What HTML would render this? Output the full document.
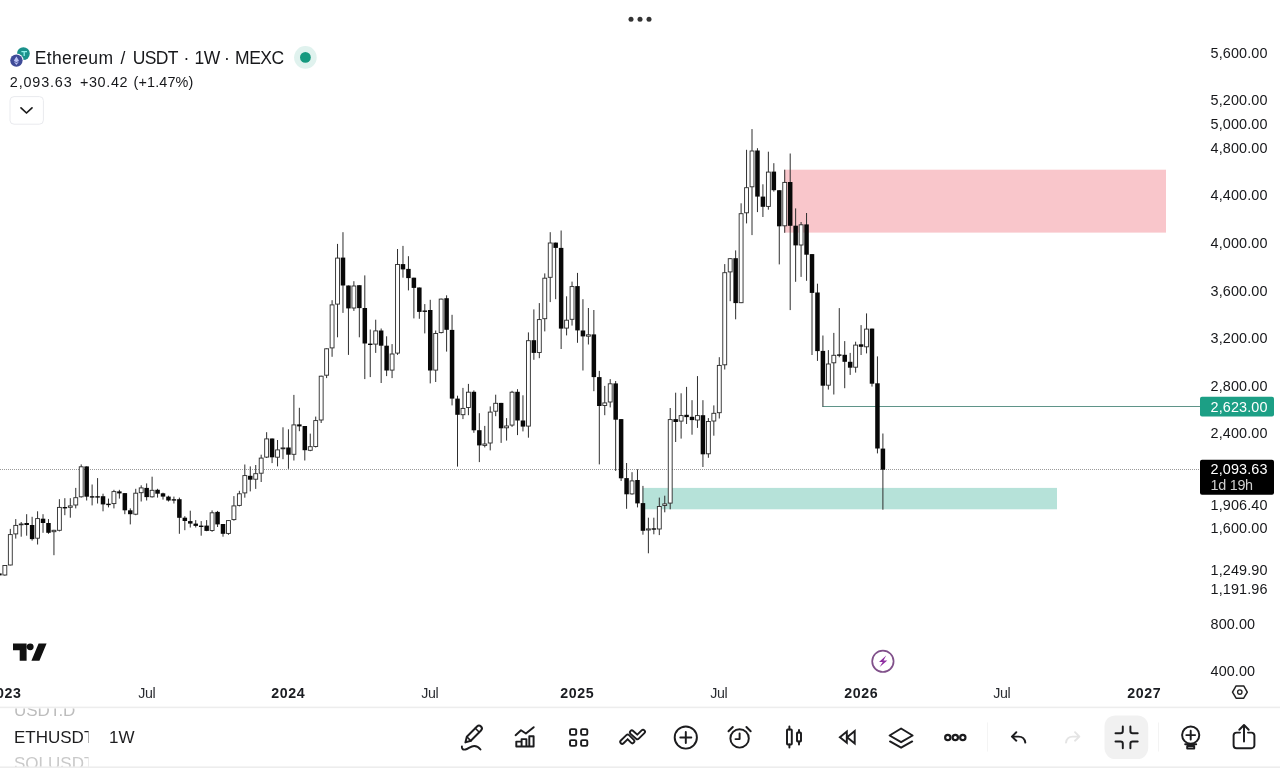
<!DOCTYPE html>
<html lang="en">
<head>
<meta charset="utf-8">
<title>Ethereum / USDT · 1W · MEXC</title>
<style>
html,body{margin:0;padding:0;background:#fff;}
body{width:1280px;height:768px;overflow:hidden;position:relative;font-family:"Liberation Sans", Arial, sans-serif;}
svg{position:absolute;left:0;top:0;display:block;}
text{font-family:"Liberation Sans", Arial, sans-serif;fill:#17181b;}
.ax{font-size:14.4px;}
.tn{font-size:14.2px;fill:#2a2c31;}
.tb{font-size:14.2px;font-weight:700;fill:#1b1d22;}
.title{font-size:17.5px;}
.sub{font-size:14.4px;}
</style>
</head>
<body>
<svg width="1280" height="768" viewBox="0 0 1280 768">
<rect width="1280" height="768" fill="#fff"/>
<!-- zones -->
<rect x="784.3" y="169.7" width="381.7" height="62.9" fill="#f9c6cb"/>
<rect x="642.7" y="487.9" width="414.3" height="21.4" fill="#b6e2d9"/>
<!-- current price dotted line -->
<path d="M0 469.5H1200" stroke="#9a9a9a" stroke-width="1" stroke-dasharray="1 1" fill="none"/>
<!-- level line -->
<path d="M822.3 406.55H1200" stroke="#5f9489" stroke-width="1.1" fill="none"/>
<!-- candles -->
<g shape-rendering="auto">
<path d="M-0.60 573.4V575.4" stroke="#2e2e2e" stroke-width="1"/>
<rect x="-2.85" y="573.4" width="4.5" height="2.0" fill="#080808"/>
<path d="M4.85 565.0V575.7" stroke="#2e2e2e" stroke-width="1"/>
<rect x="2.90" y="565.5" width="3.9" height="9.5" fill="#fff" stroke="#2a2a2a" stroke-width="0.9"/>
<path d="M10.31 528.9V565.4" stroke="#2e2e2e" stroke-width="1"/>
<rect x="8.36" y="534.6" width="3.9" height="30.4" fill="#fff" stroke="#2a2a2a" stroke-width="0.9"/>
<path d="M15.76 519.1V538.6" stroke="#2e2e2e" stroke-width="1"/>
<rect x="13.81" y="525.4" width="3.9" height="8.5" fill="#fff" stroke="#2a2a2a" stroke-width="0.9"/>
<path d="M21.21 522.0V536.7" stroke="#2e2e2e" stroke-width="1"/>
<rect x="19.26" y="524.0" width="3.9" height="0.8" fill="#fff" stroke="#2a2a2a" stroke-width="0.9"/>
<path d="M26.67 514.2V535.7" stroke="#2e2e2e" stroke-width="1"/>
<rect x="24.42" y="523.0" width="4.5" height="2.0" fill="#080808"/>
<path d="M32.12 516.8V540.6" stroke="#2e2e2e" stroke-width="1"/>
<rect x="29.87" y="525.0" width="4.5" height="14.1" fill="#080808"/>
<path d="M37.58 511.3V544.5" stroke="#2e2e2e" stroke-width="1"/>
<rect x="35.63" y="518.6" width="3.9" height="19.6" fill="#fff" stroke="#2a2a2a" stroke-width="0.9"/>
<path d="M43.03 514.2V532.8" stroke="#2e2e2e" stroke-width="1"/>
<rect x="40.78" y="518.7" width="4.5" height="4.3" fill="#080808"/>
<path d="M48.48 519.1V533.8" stroke="#2e2e2e" stroke-width="1"/>
<rect x="46.23" y="523.0" width="4.5" height="9.8" fill="#080808"/>
<path d="M53.94 529.8V555.2" stroke="#2e2e2e" stroke-width="1"/>
<rect x="51.99" y="530.3" width="3.9" height="1.4" fill="#fff" stroke="#2a2a2a" stroke-width="0.9"/>
<path d="M59.39 499.2V531.4" stroke="#2e2e2e" stroke-width="1"/>
<rect x="57.44" y="507.4" width="3.9" height="22.9" fill="#fff" stroke="#2a2a2a" stroke-width="0.9"/>
<path d="M64.84 498.2V515.2" stroke="#2e2e2e" stroke-width="1"/>
<rect x="62.59" y="507.0" width="4.5" height="1.4" fill="#080808"/>
<path d="M70.30 498.2V517.7" stroke="#2e2e2e" stroke-width="1"/>
<rect x="68.35" y="505.9" width="3.9" height="1.4" fill="#fff" stroke="#2a2a2a" stroke-width="0.9"/>
<path d="M75.75 487.9V508.4" stroke="#2e2e2e" stroke-width="1"/>
<rect x="73.80" y="497.7" width="3.9" height="7.3" fill="#fff" stroke="#2a2a2a" stroke-width="0.9"/>
<path d="M81.21 464.4V497.6" stroke="#2e2e2e" stroke-width="1"/>
<rect x="79.26" y="466.8" width="3.9" height="30.0" fill="#fff" stroke="#2a2a2a" stroke-width="0.9"/>
<path d="M86.66 466.4V500.5" stroke="#2e2e2e" stroke-width="1"/>
<rect x="84.41" y="466.4" width="4.5" height="30.3" fill="#080808"/>
<path d="M92.11 484.5V505.4" stroke="#2e2e2e" stroke-width="1"/>
<rect x="89.86" y="496.2" width="4.5" height="1.4" fill="#080808"/>
<path d="M97.57 478.1V503.5" stroke="#2e2e2e" stroke-width="1"/>
<rect x="95.32" y="496.2" width="4.5" height="1.4" fill="#080808"/>
<path d="M103.02 493.7V511.3" stroke="#2e2e2e" stroke-width="1"/>
<rect x="100.77" y="496.2" width="4.5" height="8.2" fill="#080808"/>
<path d="M108.47 498.6V507.4" stroke="#2e2e2e" stroke-width="1"/>
<rect x="106.22" y="503.7" width="4.5" height="1.4" fill="#080808"/>
<path d="M113.93 489.8V508.4" stroke="#2e2e2e" stroke-width="1"/>
<rect x="111.98" y="491.6" width="3.9" height="12.0" fill="#fff" stroke="#2a2a2a" stroke-width="0.9"/>
<path d="M119.38 489.8V498.6" stroke="#2e2e2e" stroke-width="1"/>
<rect x="117.13" y="491.4" width="4.5" height="2.0" fill="#080808"/>
<path d="M124.84 493.1V514.2" stroke="#2e2e2e" stroke-width="1"/>
<rect x="122.59" y="493.1" width="4.5" height="17.2" fill="#080808"/>
<path d="M130.29 508.4V524.4" stroke="#2e2e2e" stroke-width="1"/>
<rect x="128.04" y="510.3" width="4.5" height="3.9" fill="#080808"/>
<path d="M135.74 488.8V515.2" stroke="#2e2e2e" stroke-width="1"/>
<rect x="133.79" y="493.2" width="3.9" height="21.0" fill="#fff" stroke="#2a2a2a" stroke-width="0.9"/>
<path d="M141.20 485.3V501.5" stroke="#2e2e2e" stroke-width="1"/>
<rect x="139.25" y="487.9" width="3.9" height="4.8" fill="#fff" stroke="#2a2a2a" stroke-width="0.9"/>
<path d="M146.65 483.4V500.5" stroke="#2e2e2e" stroke-width="1"/>
<rect x="144.40" y="487.9" width="4.5" height="9.2" fill="#080808"/>
<path d="M152.10 476.7V497.6" stroke="#2e2e2e" stroke-width="1"/>
<rect x="150.15" y="490.3" width="3.9" height="6.5" fill="#fff" stroke="#2a2a2a" stroke-width="0.9"/>
<path d="M157.56 488.8V497.6" stroke="#2e2e2e" stroke-width="1"/>
<rect x="155.31" y="489.8" width="4.5" height="3.9" fill="#080808"/>
<path d="M163.01 492.7V499.6" stroke="#2e2e2e" stroke-width="1"/>
<rect x="160.76" y="493.3" width="4.5" height="3.3" fill="#080808"/>
<path d="M168.46 495.7V501.5" stroke="#2e2e2e" stroke-width="1"/>
<rect x="166.21" y="496.6" width="4.5" height="3.9" fill="#080808"/>
<path d="M173.92 496.6V503.5" stroke="#2e2e2e" stroke-width="1"/>
<rect x="171.67" y="499.2" width="4.5" height="1.4" fill="#080808"/>
<path d="M179.37 497.6V533.8" stroke="#2e2e2e" stroke-width="1"/>
<rect x="177.12" y="499.2" width="4.5" height="18.6" fill="#080808"/>
<path d="M184.83 516.2V530.2" stroke="#2e2e2e" stroke-width="1"/>
<rect x="182.58" y="517.7" width="4.5" height="3.3" fill="#080808"/>
<path d="M190.28 510.7V527.5" stroke="#2e2e2e" stroke-width="1"/>
<rect x="188.03" y="521.1" width="4.5" height="2.5" fill="#080808"/>
<path d="M195.73 520.1V527.5" stroke="#2e2e2e" stroke-width="1"/>
<rect x="193.48" y="523.6" width="4.5" height="2.3" fill="#080808"/>
<path d="M201.19 521.1V535.7" stroke="#2e2e2e" stroke-width="1"/>
<rect x="198.94" y="525.6" width="4.5" height="1.4" fill="#080808"/>
<path d="M206.64 520.1V531.2" stroke="#2e2e2e" stroke-width="1"/>
<rect x="204.39" y="525.6" width="4.5" height="5.3" fill="#080808"/>
<path d="M212.09 510.4V531.8" stroke="#2e2e2e" stroke-width="1"/>
<rect x="210.14" y="512.8" width="3.9" height="17.7" fill="#fff" stroke="#2a2a2a" stroke-width="0.9"/>
<path d="M217.55 510.9V527.0" stroke="#2e2e2e" stroke-width="1"/>
<rect x="215.30" y="511.9" width="4.5" height="12.5" fill="#080808"/>
<path d="M223.00 524.0V536.7" stroke="#2e2e2e" stroke-width="1"/>
<rect x="220.75" y="524.0" width="4.5" height="9.8" fill="#080808"/>
<path d="M228.46 520.1V534.8" stroke="#2e2e2e" stroke-width="1"/>
<rect x="226.51" y="520.6" width="3.9" height="12.8" fill="#fff" stroke="#2a2a2a" stroke-width="0.9"/>
<path d="M233.91 496.1V520.7" stroke="#2e2e2e" stroke-width="1"/>
<rect x="231.96" y="505.9" width="3.9" height="13.7" fill="#fff" stroke="#2a2a2a" stroke-width="0.9"/>
<path d="M239.36 490.8V506.4" stroke="#2e2e2e" stroke-width="1"/>
<rect x="237.41" y="493.8" width="3.9" height="11.6" fill="#fff" stroke="#2a2a2a" stroke-width="0.9"/>
<path d="M244.82 464.5V497.7" stroke="#2e2e2e" stroke-width="1"/>
<rect x="242.87" y="475.6" width="3.9" height="17.3" fill="#fff" stroke="#2a2a2a" stroke-width="0.9"/>
<path d="M250.27 466.4V491.4" stroke="#2e2e2e" stroke-width="1"/>
<rect x="248.02" y="475.8" width="4.5" height="3.9" fill="#080808"/>
<path d="M255.72 465.0V488.9" stroke="#2e2e2e" stroke-width="1"/>
<rect x="253.77" y="473.7" width="3.9" height="5.5" fill="#fff" stroke="#2a2a2a" stroke-width="0.9"/>
<path d="M261.18 454.7V482.0" stroke="#2e2e2e" stroke-width="1"/>
<rect x="259.23" y="458.1" width="3.9" height="15.1" fill="#fff" stroke="#2a2a2a" stroke-width="0.9"/>
<path d="M266.63 432.2V458.0" stroke="#2e2e2e" stroke-width="1"/>
<rect x="264.68" y="438.9" width="3.9" height="18.2" fill="#fff" stroke="#2a2a2a" stroke-width="0.9"/>
<path d="M272.08 438.5V463.1" stroke="#2e2e2e" stroke-width="1"/>
<rect x="269.83" y="438.5" width="4.5" height="18.8" fill="#080808"/>
<path d="M277.54 440.0V466.4" stroke="#2e2e2e" stroke-width="1"/>
<rect x="275.59" y="449.9" width="3.9" height="7.3" fill="#fff" stroke="#2a2a2a" stroke-width="0.9"/>
<path d="M282.99 427.3V459.2" stroke="#2e2e2e" stroke-width="1"/>
<rect x="281.04" y="447.9" width="3.9" height="0.9" fill="#fff" stroke="#2a2a2a" stroke-width="0.9"/>
<path d="M288.45 429.3V468.8" stroke="#2e2e2e" stroke-width="1"/>
<rect x="286.20" y="447.5" width="4.5" height="7.2" fill="#080808"/>
<path d="M293.90 394.9V460.5" stroke="#2e2e2e" stroke-width="1"/>
<rect x="291.95" y="424.9" width="3.9" height="29.4" fill="#fff" stroke="#2a2a2a" stroke-width="0.9"/>
<path d="M299.35 407.8V431.2" stroke="#2e2e2e" stroke-width="1"/>
<rect x="297.10" y="424.4" width="4.5" height="2.0" fill="#080808"/>
<path d="M304.81 426.0V460.5" stroke="#2e2e2e" stroke-width="1"/>
<rect x="302.56" y="426.0" width="4.5" height="24.2" fill="#080808"/>
<path d="M310.26 433.6V451.2" stroke="#2e2e2e" stroke-width="1"/>
<rect x="308.31" y="446.7" width="3.9" height="3.6" fill="#fff" stroke="#2a2a2a" stroke-width="0.9"/>
<path d="M315.71 416.6V447.5" stroke="#2e2e2e" stroke-width="1"/>
<rect x="313.76" y="420.6" width="3.9" height="25.9" fill="#fff" stroke="#2a2a2a" stroke-width="0.9"/>
<path d="M321.17 375.7V423.0" stroke="#2e2e2e" stroke-width="1"/>
<rect x="319.22" y="376.2" width="3.9" height="43.8" fill="#fff" stroke="#2a2a2a" stroke-width="0.9"/>
<path d="M326.62 348.4V378.1" stroke="#2e2e2e" stroke-width="1"/>
<rect x="324.67" y="348.8" width="3.9" height="26.4" fill="#fff" stroke="#2a2a2a" stroke-width="0.9"/>
<path d="M332.08 300.2V356.8" stroke="#2e2e2e" stroke-width="1"/>
<rect x="330.13" y="304.9" width="3.9" height="43.0" fill="#fff" stroke="#2a2a2a" stroke-width="0.9"/>
<path d="M337.53 243.9V337.3" stroke="#2e2e2e" stroke-width="1"/>
<rect x="335.58" y="258.1" width="3.9" height="46.0" fill="#fff" stroke="#2a2a2a" stroke-width="0.9"/>
<path d="M342.98 232.2V312.9" stroke="#2e2e2e" stroke-width="1"/>
<rect x="340.73" y="257.6" width="4.5" height="27.9" fill="#080808"/>
<path d="M348.44 285.5V354.9" stroke="#2e2e2e" stroke-width="1"/>
<rect x="346.19" y="285.5" width="4.5" height="22.9" fill="#080808"/>
<path d="M353.89 281.2V310.9" stroke="#2e2e2e" stroke-width="1"/>
<rect x="351.94" y="286.0" width="3.9" height="22.0" fill="#fff" stroke="#2a2a2a" stroke-width="0.9"/>
<path d="M359.34 285.2V337.3" stroke="#2e2e2e" stroke-width="1"/>
<rect x="357.09" y="285.2" width="4.5" height="22.9" fill="#080808"/>
<path d="M364.80 275.4V379.1" stroke="#2e2e2e" stroke-width="1"/>
<rect x="362.55" y="308.0" width="4.5" height="35.5" fill="#080808"/>
<path d="M370.25 329.5V377.1" stroke="#2e2e2e" stroke-width="1"/>
<rect x="368.00" y="343.6" width="4.5" height="1.4" fill="#080808"/>
<path d="M375.71 319.7V352.9" stroke="#2e2e2e" stroke-width="1"/>
<rect x="373.76" y="330.9" width="3.9" height="13.2" fill="#fff" stroke="#2a2a2a" stroke-width="0.9"/>
<path d="M381.16 328.5V383.0" stroke="#2e2e2e" stroke-width="1"/>
<rect x="378.91" y="330.5" width="4.5" height="15.2" fill="#080808"/>
<path d="M386.61 336.3V376.1" stroke="#2e2e2e" stroke-width="1"/>
<rect x="384.36" y="345.7" width="4.5" height="24.8" fill="#080808"/>
<path d="M392.07 344.1V378.1" stroke="#2e2e2e" stroke-width="1"/>
<rect x="390.12" y="354.0" width="3.9" height="16.1" fill="#fff" stroke="#2a2a2a" stroke-width="0.9"/>
<path d="M397.52 249.0V354.9" stroke="#2e2e2e" stroke-width="1"/>
<rect x="395.57" y="264.5" width="3.9" height="88.6" fill="#fff" stroke="#2a2a2a" stroke-width="0.9"/>
<path d="M402.97 245.9V277.7" stroke="#2e2e2e" stroke-width="1"/>
<rect x="400.72" y="264.1" width="4.5" height="5.3" fill="#080808"/>
<path d="M408.43 256.2V290.4" stroke="#2e2e2e" stroke-width="1"/>
<rect x="406.18" y="268.9" width="4.5" height="9.2" fill="#080808"/>
<path d="M413.88 277.7V318.4" stroke="#2e2e2e" stroke-width="1"/>
<rect x="411.63" y="277.7" width="4.5" height="10.2" fill="#080808"/>
<path d="M419.33 287.5V318.8" stroke="#2e2e2e" stroke-width="1"/>
<rect x="417.08" y="287.5" width="4.5" height="24.4" fill="#080808"/>
<path d="M424.79 304.1V333.4" stroke="#2e2e2e" stroke-width="1"/>
<rect x="422.54" y="310.5" width="4.5" height="1.4" fill="#080808"/>
<path d="M430.24 299.8V383.4" stroke="#2e2e2e" stroke-width="1"/>
<rect x="427.99" y="310.0" width="4.5" height="60.5" fill="#080808"/>
<path d="M435.70 330.5V382.0" stroke="#2e2e2e" stroke-width="1"/>
<rect x="433.75" y="333.5" width="3.9" height="36.6" fill="#fff" stroke="#2a2a2a" stroke-width="0.9"/>
<path d="M441.15 298.6V333.4" stroke="#2e2e2e" stroke-width="1"/>
<rect x="439.20" y="299.1" width="3.9" height="33.5" fill="#fff" stroke="#2a2a2a" stroke-width="0.9"/>
<path d="M446.60 295.3V351.6" stroke="#2e2e2e" stroke-width="1"/>
<rect x="444.35" y="298.2" width="4.5" height="31.6" fill="#080808"/>
<path d="M452.06 314.8V405.4" stroke="#2e2e2e" stroke-width="1"/>
<rect x="449.81" y="329.9" width="4.5" height="68.7" fill="#080808"/>
<path d="M457.51 395.7V466.6" stroke="#2e2e2e" stroke-width="1"/>
<rect x="455.26" y="398.6" width="4.5" height="16.2" fill="#080808"/>
<path d="M462.96 387.9V419.1" stroke="#2e2e2e" stroke-width="1"/>
<rect x="461.01" y="408.4" width="3.9" height="6.3" fill="#fff" stroke="#2a2a2a" stroke-width="0.9"/>
<path d="M468.42 383.9V415.2" stroke="#2e2e2e" stroke-width="1"/>
<rect x="466.47" y="392.2" width="3.9" height="15.3" fill="#fff" stroke="#2a2a2a" stroke-width="0.9"/>
<path d="M473.87 390.4V432.8" stroke="#2e2e2e" stroke-width="1"/>
<rect x="471.62" y="391.8" width="4.5" height="38.5" fill="#080808"/>
<path d="M479.33 413.2V462.1" stroke="#2e2e2e" stroke-width="1"/>
<rect x="477.08" y="430.2" width="4.5" height="15.2" fill="#080808"/>
<path d="M484.78 425.9V447.4" stroke="#2e2e2e" stroke-width="1"/>
<rect x="482.83" y="444.0" width="3.9" height="1.4" fill="#fff" stroke="#2a2a2a" stroke-width="0.9"/>
<path d="M490.23 406.4V450.4" stroke="#2e2e2e" stroke-width="1"/>
<rect x="488.28" y="412.1" width="3.9" height="30.9" fill="#fff" stroke="#2a2a2a" stroke-width="0.9"/>
<path d="M495.69 394.7V416.2" stroke="#2e2e2e" stroke-width="1"/>
<rect x="493.74" y="403.3" width="3.9" height="7.9" fill="#fff" stroke="#2a2a2a" stroke-width="0.9"/>
<path d="M501.14 402.9V442.9" stroke="#2e2e2e" stroke-width="1"/>
<rect x="498.89" y="402.9" width="4.5" height="25.4" fill="#080808"/>
<path d="M506.59 418.1V440.6" stroke="#2e2e2e" stroke-width="1"/>
<rect x="504.64" y="426.0" width="3.9" height="1.8" fill="#fff" stroke="#2a2a2a" stroke-width="0.9"/>
<path d="M512.05 390.8V426.9" stroke="#2e2e2e" stroke-width="1"/>
<rect x="510.10" y="392.2" width="3.9" height="32.9" fill="#fff" stroke="#2a2a2a" stroke-width="0.9"/>
<path d="M517.50 389.2V435.1" stroke="#2e2e2e" stroke-width="1"/>
<rect x="515.25" y="391.8" width="4.5" height="28.7" fill="#080808"/>
<path d="M522.96 395.3V431.4" stroke="#2e2e2e" stroke-width="1"/>
<rect x="520.71" y="420.5" width="4.5" height="6.1" fill="#080808"/>
<path d="M528.41 332.4V437.7" stroke="#2e2e2e" stroke-width="1"/>
<rect x="526.46" y="340.7" width="3.9" height="85.4" fill="#fff" stroke="#2a2a2a" stroke-width="0.9"/>
<path d="M533.86 309.4V359.8" stroke="#2e2e2e" stroke-width="1"/>
<rect x="531.61" y="340.2" width="4.5" height="12.7" fill="#080808"/>
<path d="M539.32 303.1V358.2" stroke="#2e2e2e" stroke-width="1"/>
<rect x="537.37" y="319.6" width="3.9" height="32.9" fill="#fff" stroke="#2a2a2a" stroke-width="0.9"/>
<path d="M544.77 273.4V331.4" stroke="#2e2e2e" stroke-width="1"/>
<rect x="542.82" y="278.2" width="3.9" height="40.5" fill="#fff" stroke="#2a2a2a" stroke-width="0.9"/>
<path d="M550.22 232.2V302.1" stroke="#2e2e2e" stroke-width="1"/>
<rect x="548.27" y="243.0" width="3.9" height="34.3" fill="#fff" stroke="#2a2a2a" stroke-width="0.9"/>
<path d="M555.68 242.6V299.2" stroke="#2e2e2e" stroke-width="1"/>
<rect x="553.43" y="242.6" width="4.5" height="5.3" fill="#080808"/>
<path d="M561.13 230.5V349.0" stroke="#2e2e2e" stroke-width="1"/>
<rect x="558.88" y="247.9" width="4.5" height="80.7" fill="#080808"/>
<path d="M566.58 296.3V335.4" stroke="#2e2e2e" stroke-width="1"/>
<rect x="564.63" y="320.2" width="3.9" height="7.9" fill="#fff" stroke="#2a2a2a" stroke-width="0.9"/>
<path d="M572.04 281.6V325.6" stroke="#2e2e2e" stroke-width="1"/>
<rect x="570.09" y="286.6" width="3.9" height="32.7" fill="#fff" stroke="#2a2a2a" stroke-width="0.9"/>
<path d="M577.49 272.9V342.8" stroke="#2e2e2e" stroke-width="1"/>
<rect x="575.24" y="286.1" width="4.5" height="44.3" fill="#080808"/>
<path d="M582.95 299.2V370.5" stroke="#2e2e2e" stroke-width="1"/>
<rect x="580.70" y="330.5" width="4.5" height="5.9" fill="#080808"/>
<path d="M588.40 308.0V344.5" stroke="#2e2e2e" stroke-width="1"/>
<rect x="586.45" y="334.8" width="3.9" height="1.4" fill="#fff" stroke="#2a2a2a" stroke-width="0.9"/>
<path d="M593.85 310.0V391.2" stroke="#2e2e2e" stroke-width="1"/>
<rect x="591.60" y="334.4" width="4.5" height="42.7" fill="#080808"/>
<path d="M599.31 370.9V464.4" stroke="#2e2e2e" stroke-width="1"/>
<rect x="597.06" y="377.1" width="4.5" height="28.9" fill="#080808"/>
<path d="M604.76 385.9V415.2" stroke="#2e2e2e" stroke-width="1"/>
<rect x="602.81" y="402.9" width="3.9" height="2.6" fill="#fff" stroke="#2a2a2a" stroke-width="0.9"/>
<path d="M610.21 379.1V407.4" stroke="#2e2e2e" stroke-width="1"/>
<rect x="608.26" y="383.8" width="3.9" height="18.2" fill="#fff" stroke="#2a2a2a" stroke-width="0.9"/>
<path d="M615.67 381.0V470.9" stroke="#2e2e2e" stroke-width="1"/>
<rect x="613.42" y="383.4" width="4.5" height="36.3" fill="#080808"/>
<path d="M621.12 419.1V481.0" stroke="#2e2e2e" stroke-width="1"/>
<rect x="618.87" y="419.1" width="4.5" height="59.2" fill="#080808"/>
<path d="M626.58 463.0V508.8" stroke="#2e2e2e" stroke-width="1"/>
<rect x="624.33" y="478.1" width="4.5" height="16.2" fill="#080808"/>
<path d="M632.03 472.2V494.7" stroke="#2e2e2e" stroke-width="1"/>
<rect x="630.08" y="480.9" width="3.9" height="13.0" fill="#fff" stroke="#2a2a2a" stroke-width="0.9"/>
<path d="M637.48 469.3V507.4" stroke="#2e2e2e" stroke-width="1"/>
<rect x="635.23" y="480.0" width="4.5" height="23.4" fill="#080808"/>
<path d="M642.94 485.9V534.7" stroke="#2e2e2e" stroke-width="1"/>
<rect x="640.69" y="503.1" width="4.5" height="27.7" fill="#080808"/>
<path d="M648.39 517.7V553.3" stroke="#2e2e2e" stroke-width="1"/>
<rect x="646.44" y="528.9" width="3.9" height="1.1" fill="#fff" stroke="#2a2a2a" stroke-width="0.9"/>
<path d="M653.84 517.7V534.3" stroke="#2e2e2e" stroke-width="1"/>
<rect x="651.59" y="528.3" width="4.5" height="1.4" fill="#080808"/>
<path d="M659.30 497.6V535.1" stroke="#2e2e2e" stroke-width="1"/>
<rect x="657.35" y="506.5" width="3.9" height="22.5" fill="#fff" stroke="#2a2a2a" stroke-width="0.9"/>
<path d="M664.75 495.7V512.3" stroke="#2e2e2e" stroke-width="1"/>
<rect x="662.80" y="503.9" width="3.9" height="1.6" fill="#fff" stroke="#2a2a2a" stroke-width="0.9"/>
<path d="M670.21 408.0V509.3" stroke="#2e2e2e" stroke-width="1"/>
<rect x="668.26" y="419.6" width="3.9" height="83.5" fill="#fff" stroke="#2a2a2a" stroke-width="0.9"/>
<path d="M675.66 392.7V442.0" stroke="#2e2e2e" stroke-width="1"/>
<rect x="673.41" y="419.1" width="4.5" height="2.9" fill="#080808"/>
<path d="M681.11 393.3V438.6" stroke="#2e2e2e" stroke-width="1"/>
<rect x="679.16" y="415.6" width="3.9" height="5.5" fill="#fff" stroke="#2a2a2a" stroke-width="0.9"/>
<path d="M686.57 386.9V424.0" stroke="#2e2e2e" stroke-width="1"/>
<rect x="684.32" y="414.8" width="4.5" height="2.3" fill="#080808"/>
<path d="M692.02 400.2V434.7" stroke="#2e2e2e" stroke-width="1"/>
<rect x="689.77" y="416.8" width="4.5" height="3.3" fill="#080808"/>
<path d="M697.47 376.1V427.9" stroke="#2e2e2e" stroke-width="1"/>
<rect x="695.52" y="415.6" width="3.9" height="4.4" fill="#fff" stroke="#2a2a2a" stroke-width="0.9"/>
<path d="M702.93 400.2V467.0" stroke="#2e2e2e" stroke-width="1"/>
<rect x="700.68" y="415.2" width="4.5" height="39.1" fill="#080808"/>
<path d="M708.38 418.1V457.8" stroke="#2e2e2e" stroke-width="1"/>
<rect x="706.43" y="421.5" width="3.9" height="32.3" fill="#fff" stroke="#2a2a2a" stroke-width="0.9"/>
<path d="M713.83 405.4V435.7" stroke="#2e2e2e" stroke-width="1"/>
<rect x="711.88" y="413.3" width="3.9" height="7.7" fill="#fff" stroke="#2a2a2a" stroke-width="0.9"/>
<path d="M719.29 357.2V418.5" stroke="#2e2e2e" stroke-width="1"/>
<rect x="717.34" y="365.4" width="3.9" height="47.3" fill="#fff" stroke="#2a2a2a" stroke-width="0.9"/>
<path d="M724.74 264.1V369.5" stroke="#2e2e2e" stroke-width="1"/>
<rect x="722.79" y="272.7" width="3.9" height="92.1" fill="#fff" stroke="#2a2a2a" stroke-width="0.9"/>
<path d="M730.20 258.2V301.2" stroke="#2e2e2e" stroke-width="1"/>
<rect x="728.25" y="258.7" width="3.9" height="13.2" fill="#fff" stroke="#2a2a2a" stroke-width="0.9"/>
<path d="M735.65 250.4V319.3" stroke="#2e2e2e" stroke-width="1"/>
<rect x="733.40" y="258.2" width="4.5" height="44.9" fill="#080808"/>
<path d="M741.10 203.3V303.1" stroke="#2e2e2e" stroke-width="1"/>
<rect x="739.15" y="213.7" width="3.9" height="89.0" fill="#fff" stroke="#2a2a2a" stroke-width="0.9"/>
<path d="M746.56 149.8V223.4" stroke="#2e2e2e" stroke-width="1"/>
<rect x="744.61" y="187.7" width="3.9" height="25.1" fill="#fff" stroke="#2a2a2a" stroke-width="0.9"/>
<path d="M752.01 129.1V235.1" stroke="#2e2e2e" stroke-width="1"/>
<rect x="750.06" y="151.0" width="3.9" height="35.8" fill="#fff" stroke="#2a2a2a" stroke-width="0.9"/>
<path d="M757.46 148.2V212.1" stroke="#2e2e2e" stroke-width="1"/>
<rect x="755.21" y="150.5" width="4.5" height="46.1" fill="#080808"/>
<path d="M762.92 184.3V217.0" stroke="#2e2e2e" stroke-width="1"/>
<rect x="760.67" y="196.6" width="4.5" height="10.2" fill="#080808"/>
<path d="M768.37 151.7V209.7" stroke="#2e2e2e" stroke-width="1"/>
<rect x="766.42" y="172.1" width="3.9" height="34.3" fill="#fff" stroke="#2a2a2a" stroke-width="0.9"/>
<path d="M773.83 163.2V191.6" stroke="#2e2e2e" stroke-width="1"/>
<rect x="771.58" y="171.6" width="4.5" height="18.6" fill="#080808"/>
<path d="M779.28 190.2V264.4" stroke="#2e2e2e" stroke-width="1"/>
<rect x="777.03" y="190.2" width="4.5" height="36.1" fill="#080808"/>
<path d="M784.73 169.7V232.8" stroke="#2e2e2e" stroke-width="1"/>
<rect x="782.78" y="182.4" width="3.9" height="43.4" fill="#fff" stroke="#2a2a2a" stroke-width="0.9"/>
<path d="M790.19 153.5V310.1" stroke="#2e2e2e" stroke-width="1"/>
<rect x="787.94" y="182.0" width="4.5" height="43.8" fill="#080808"/>
<path d="M795.64 208.4V281.8" stroke="#2e2e2e" stroke-width="1"/>
<rect x="793.39" y="225.7" width="4.5" height="19.7" fill="#080808"/>
<path d="M801.09 222.0V276.9" stroke="#2e2e2e" stroke-width="1"/>
<rect x="799.14" y="224.8" width="3.9" height="20.2" fill="#fff" stroke="#2a2a2a" stroke-width="0.9"/>
<path d="M806.55 213.0V280.8" stroke="#2e2e2e" stroke-width="1"/>
<rect x="804.30" y="224.4" width="4.5" height="30.3" fill="#080808"/>
<path d="M812.00 254.1V355.0" stroke="#2e2e2e" stroke-width="1"/>
<rect x="809.75" y="254.1" width="4.5" height="38.8" fill="#080808"/>
<path d="M817.46 283.7V360.9" stroke="#2e2e2e" stroke-width="1"/>
<rect x="815.21" y="292.5" width="4.5" height="58.6" fill="#080808"/>
<path d="M822.91 335.5V406.6" stroke="#2e2e2e" stroke-width="1"/>
<rect x="820.66" y="350.9" width="4.5" height="34.8" fill="#080808"/>
<path d="M828.36 350.1V389.6" stroke="#2e2e2e" stroke-width="1"/>
<rect x="826.41" y="364.0" width="3.9" height="21.2" fill="#fff" stroke="#2a2a2a" stroke-width="0.9"/>
<path d="M833.82 332.9V394.5" stroke="#2e2e2e" stroke-width="1"/>
<rect x="831.87" y="355.3" width="3.9" height="7.5" fill="#fff" stroke="#2a2a2a" stroke-width="0.9"/>
<path d="M839.27 308.1V357.3" stroke="#2e2e2e" stroke-width="1"/>
<rect x="837.02" y="354.4" width="4.5" height="1.4" fill="#080808"/>
<path d="M844.72 341.1V388.2" stroke="#2e2e2e" stroke-width="1"/>
<rect x="842.47" y="354.8" width="4.5" height="7.0" fill="#080808"/>
<path d="M850.18 352.9V374.9" stroke="#2e2e2e" stroke-width="1"/>
<rect x="847.93" y="361.8" width="4.5" height="5.9" fill="#080808"/>
<path d="M855.63 341.7V372.6" stroke="#2e2e2e" stroke-width="1"/>
<rect x="853.68" y="345.1" width="3.9" height="22.1" fill="#fff" stroke="#2a2a2a" stroke-width="0.9"/>
<path d="M861.08 325.1V355.0" stroke="#2e2e2e" stroke-width="1"/>
<rect x="858.83" y="344.3" width="4.5" height="2.5" fill="#080808"/>
<path d="M866.54 313.4V353.4" stroke="#2e2e2e" stroke-width="1"/>
<rect x="864.59" y="329.1" width="3.9" height="17.7" fill="#fff" stroke="#2a2a2a" stroke-width="0.9"/>
<path d="M871.99 328.6V386.6" stroke="#2e2e2e" stroke-width="1"/>
<rect x="869.74" y="328.6" width="4.5" height="55.1" fill="#080808"/>
<path d="M877.45 356.4V453.4" stroke="#2e2e2e" stroke-width="1"/>
<rect x="875.20" y="383.3" width="4.5" height="65.2" fill="#080808"/>
<path d="M882.90 433.5V509.7" stroke="#2e2e2e" stroke-width="1"/>
<rect x="880.65" y="448.6" width="4.5" height="21.1" fill="#080808"/>
</g>
<!-- price axis -->
<text x="1210.6" y="58.2" class="ax" textLength="56.8">5,600.00</text>
<text x="1210.6" y="105.2" class="ax" textLength="56.8">5,200.00</text>
<text x="1210.6" y="129.2" class="ax" textLength="56.8">5,000.00</text>
<text x="1210.6" y="153.2" class="ax" textLength="56.8">4,800.00</text>
<text x="1210.6" y="200.2" class="ax" textLength="56.8">4,400.00</text>
<text x="1210.6" y="248.2" class="ax" textLength="56.8">4,000.00</text>
<text x="1210.6" y="295.7" class="ax" textLength="56.8">3,600.00</text>
<text x="1210.6" y="343.2" class="ax" textLength="56.8">3,200.00</text>
<text x="1210.6" y="390.7" class="ax" textLength="56.8">2,800.00</text>
<text x="1210.6" y="438.2" class="ax" textLength="56.8">2,400.00</text>
<text x="1210.6" y="509.5" class="ax" textLength="56.8">1,906.40</text>
<text x="1210.6" y="533.0" class="ax" textLength="56.8">1,600.00</text>
<text x="1210.6" y="575.2" class="ax" textLength="56.8">1,249.90</text>
<text x="1210.6" y="593.7" class="ax" textLength="56.8">1,191.96</text>
<text x="1210.6" y="628.6" class="ax" textLength="44.4">800.00</text>
<text x="1210.6" y="676.2" class="ax" textLength="44.4">400.00</text>
<rect x="1200" y="396.8" width="74" height="19.6" rx="2" fill="#1c9f85"/>
<text x="1210.6" y="412" class="ax" style="fill:#fff" textLength="56.8">2,623.00</text>
<rect x="1200" y="459.8" width="74" height="35" rx="2" fill="#000"/>
<text x="1210.6" y="474.3" class="ax" style="fill:#fff" textLength="56.8">2,093.63</text>
<text x="1210.6" y="490.4" class="ax" style="fill:#cfcfcf" textLength="42.5">1d 19h</text>
<!-- time axis -->
<text x="-12.399999999999999" y="697.5" class="tb" textLength="33.4">2023</text>
<text x="138.2" y="697.5" class="tn" textLength="17.4">Jul</text>
<text x="271.3" y="697.5" class="tb" textLength="33.4">2024</text>
<text x="421.2" y="697.5" class="tn" textLength="17.4">Jul</text>
<text x="560.3" y="697.5" class="tb" textLength="33.4">2025</text>
<text x="710.2" y="697.5" class="tn" textLength="17.4">Jul</text>
<text x="844.3" y="697.5" class="tb" textLength="33.4">2026</text>
<text x="993.2" y="697.5" class="tn" textLength="17.4">Jul</text>
<text x="1127.3" y="697.5" class="tb" textLength="33.4">2027</text>
<!-- header -->
<circle cx="631" cy="19.2" r="2.5" fill="#333"/><circle cx="640" cy="19.2" r="2.5" fill="#333"/><circle cx="649" cy="19.2" r="2.5" fill="#333"/>
<circle cx="23.4" cy="53.6" r="6.4" fill="#1a918b"/>
<circle cx="16.4" cy="60.6" r="7.2" fill="#fff"/>
<circle cx="16.4" cy="60.6" r="6.2" fill="#3f4b98"/>
<path d="M16.4 56.600l2.600 4.100-2.600 1.500-2.600-1.500zM13.800 61.400l2.600 1.500 2.600-1.500-2.600 3.500z" fill="#b9c0f2"/>
<path d="M21.4 51.6h5.6M24.2 51.6v4.4" stroke="#8ff0ea" stroke-width="1.3" fill="none"/>
<text y="63.8" class="title"><tspan x="34.8" textLength="78.2">Ethereum</tspan> <tspan x="120.6">/</tspan> <tspan x="132.8" textLength="45.2">USDT</tspan> <tspan x="183.4">·</tspan> <tspan x="194.6" textLength="25.8">1W</tspan> <tspan x="224.1">·</tspan> <tspan x="235.1" textLength="49.1">MEXC</tspan></text>
<circle cx="305.4" cy="57.4" r="11.3" fill="#e0f2ee"/>
<circle cx="305.4" cy="57.4" r="5.4" fill="#16997f"/>
<text y="87.2" class="sub"><tspan x="9.8" textLength="61.9">2,093.63</tspan> <tspan x="79.9" textLength="47.7">+30.42</tspan> <tspan x="133.5" textLength="59.8">(+1.47%)</tspan></text>
<rect x="10" y="96.6" width="33.4" height="27.6" rx="4" fill="#fff" stroke="#e9eaee" stroke-width="1"/>
<path d="M21 107.8l5.5 5.2 5.5-5.2" stroke="#1b1b1b" stroke-width="1.7" fill="none" stroke-linecap="round" stroke-linejoin="round"/>
<!-- TV logo -->
<path d="M13 643.4h13.6v17.3h-6.9v-10.4H13zM30.2 643.4a3.4 3.4 0 1 1 0 6.9 3.4 3.4 0 0 1 0-6.9zM38.6 643.4h8l-7.2 17.3h-8z" fill="#111"/>
<!-- lightning -->
<circle cx="882.900" cy="661.300" r="10.700" fill="#fff" stroke="#80508a" stroke-width="1.700"/>
<path d="M886.2 655.6L879 662H882.7L879.7 667.1L887.3 660.5H883.5Z" fill="#8f2fa2"/>
<!-- settings hex -->
<path d="M1236.1 685.9h7.6l3.6 6.15-3.6 6.15h-7.6l-3.6-6.15z" fill="none" stroke="#222" stroke-width="1.5" stroke-linejoin="round"/>
<circle cx="1239.800" cy="692.050" r="2.200" fill="none" stroke="#222" stroke-width="1.300"/>
<!-- toolbar -->
<rect x="0" y="706.6" width="1280" height="1.6" fill="#ededed"/>
<rect x="0" y="766.4" width="1280" height="1.6" fill="#ededed"/>
<rect id="collapse-bg" x="1104.5" y="715.4" width="43.7" height="43.7" rx="11" fill="#f1f1f1"/>
<!-- symbol picker -->
<clipPath id="pk"><rect x="0" y="708.4" width="88.6" height="58"/></clipPath>
<g clip-path="url(#pk)">
<text x="14" y="715.6" style="font-size:17px;fill:#bdbdbd">USDT.D</text>
<text x="14" y="743" style="font-size:17px;fill:#1d1d1f">ETHUSDT</text>
<text x="14" y="769.4" style="font-size:17px;fill:#c9c9c9">SOLUSDT</text>
</g>
<text x="109" y="743" style="font-size:17px;fill:#1d1d1f">1W</text>
<g fill="none" stroke="#1c1c1e" stroke-width="1.95" stroke-linecap="round" stroke-linejoin="round">
<!-- pencil -->
<path d="M465.4 742.4l1.4-5.7 10.2-10.2a2.8 2.8 0 0 1 4 4l-10.2 10.2z"/>
<path d="M475.3 728.300l4 4M467.300 737.300l3.600 3.600" stroke-width="1.600"/>
<path d="M461.900 746.500c-.4 2.500 1.200 3.500 3.500 3 3-.7 5.300-3.500 8.800-3.500 2.700 0 4.700 1.400 6.300 3.500"/>
<!-- chart bars -->
<path d="M516.300 746.400v-4.800h5.300v-2.500h4.800v7.300zM521.600 741.600v4.800M529.300 746.400v-10.100h4.300v10.100zM526.400 746.400h2.900"/>
<path d="M515.600 735.200l5.400-4.900 4.900 3.200 7.800-6.300"/>
<!-- grid -->
<rect x="570" y="729.100" width="6.200" height="5.800" rx="1.400"/>
<rect x="581.100" y="729.100" width="6.200" height="5.800" rx="1.400"/>
<rect x="570" y="740.100" width="6.200" height="5.800" rx="1.400"/>
<rect x="581.100" y="740.100" width="6.200" height="5.800" rx="1.400"/>
</g>
<!-- double chevrons (outlined) -->
<g fill="none" stroke-linecap="round" stroke-linejoin="round">
<path d="M622.200 741.900L627.700 736.500L632.400 741.300" stroke="#1c1c1e" stroke-width="5.8"/>
<path d="M622.200 741.900L627.700 736.500L632.400 741.300" stroke="#fff" stroke-width="2"/>
<path d="M631.900 732.400L637.400 737.300L643 731.800" stroke="#1c1c1e" stroke-width="5.8"/>
<path d="M631.900 732.400L637.400 737.300L643 731.800" stroke="#fff" stroke-width="2"/>
</g>
<g fill="none" stroke="#1c1c1e" stroke-width="1.95" stroke-linecap="round" stroke-linejoin="round">
<!-- circle plus -->
<circle cx="685.800" cy="737.500" r="11.100"/>
<path d="M680.300 737.500h11M685.800 732v11"/>
<!-- alarm -->
<circle cx="739.600" cy="738.400" r="9.200"/>
<path d="M739.600 733.400v5.700h-4.100M728.500 731.300l4.300-4.300M750.700 731.300l-4.300-4.300"/>
<!-- candles -->
<rect x="787" y="729.500" width="4.800" height="15" rx="0.800"/>
<path d="M789.400 726.400v3.100M789.400 744.500v3.100"/>
<rect x="797" y="732.500" width="4" height="9" rx="0.800"/>
<path d="M799 729.900v2.600M799 741.500v3"/>
<!-- rewind -->
<path d="M846.800 731.600v11.200l-6.900-5.600zM854.700 731v12.400l-7.600-6.200z" stroke-linejoin="miter"/>
<!-- layers -->
<path d="M901.100 728.500l11.500 7-11.500 6.700-11.500-6.700z"/>
<path d="M890 741.400l11.100 6.300 11.100-6.300"/>
<!-- ooo -->
<circle cx="947.800" cy="737.500" r="2.650" stroke-width="2.200"/><circle cx="955.300" cy="737.500" r="2.650" stroke-width="2.200"/><circle cx="962.800" cy="737.500" r="2.650" stroke-width="2.200"/>
<!-- undo -->
<path d="M1016.300 732.200l-4.400 4.400 4.400 4.100M1012.200 736.600h6.400c3.800 0 6.200 2.400 6.700 6"/>
<!-- collapse -->
<path d="M1122.800 726.400v4.600a2.200 2.200 0 0 1-2.200 2.200h-5.100M1130.400 726.400v4.600a2.200 2.200 0 0 0 2.200 2.200h5.100M1115.500 741.400h5.100a2.200 2.200 0 0 1 2.200 2.200v4.600M1137.700 741.400h-5.100a2.200 2.200 0 0 0-2.200 2.200v4.600"/>
<!-- bulb plus -->
<circle cx="1190.700" cy="735.100" r="8.600"/>
<path d="M1186.300 735.100h8.800M1190.700 730.700v8.800"/>
<path d="M1185.200 744.300h11M1187.200 746.200h7v2.400h-7z"/>
<!-- share -->
<path d="M1240 732.600h-3.400a3 3 0 0 0-3 3v9.600a3 3 0 0 0 3 3h14.800a3 3 0 0 0 3-3v-9.600a3 3 0 0 0-3-3h-3.400"/>
<path d="M1244 741.500v-16.300M1239.300 729.700l4.700-4.700 4.700 4.700"/>
</g>
<!-- redo (disabled) -->
<path d="M1075 732.200l4.400 4.400-4.400 4.100M1079.100 736.600h-6.400c-3.800 0-6.200 2.400-6.700 6" fill="none" stroke="#e4e4e4" stroke-width="1.9" stroke-linecap="round" stroke-linejoin="round"/>
<!-- separators -->
<rect x="987" y="722.500" width="1" height="29" fill="#f4f4f4"/>
<rect x="1158" y="722.500" width="1" height="29" fill="#f3f3f3"/>

</svg>
</body>
</html>
